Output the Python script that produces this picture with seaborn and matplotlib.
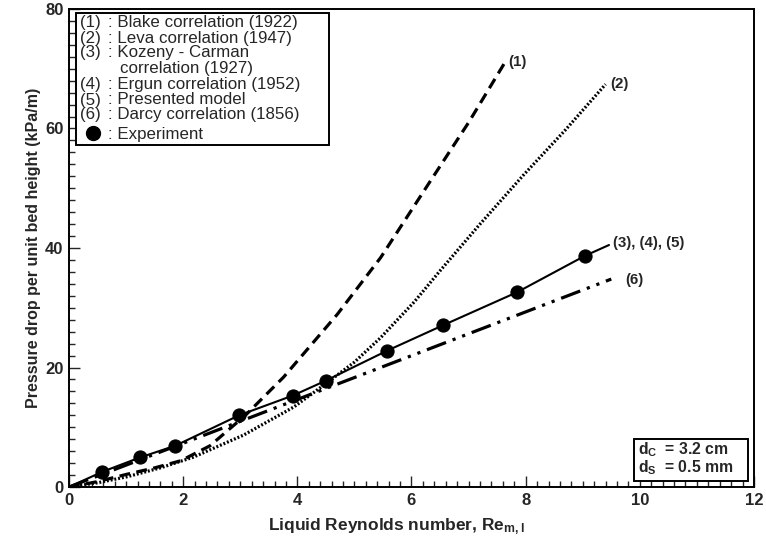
import matplotlib
matplotlib.use("Agg")
import matplotlib.pyplot as plt
from matplotlib.patches import Rectangle
import seaborn as sns

# ---------------- data ----------------
exp_x = [0.585, 1.246, 1.86, 2.98, 3.92, 4.50, 5.57, 6.56, 7.85, 9.04]
exp_y = [2.55, 4.95, 6.9, 12.0, 15.3, 17.8, 22.8, 27.1, 32.6, 38.7]

model_x = [0, 0.585, 1.246, 1.86, 2.98, 3.92, 4.50, 5.57, 6.56, 7.85, 9.04, 9.46]
model_y = [0, 2.55, 4.95, 6.9, 12.0, 15.3, 17.8, 22.8, 27.1, 32.6, 38.7, 40.5]

blake_x = [0, 0.5, 1.0, 1.5, 1.96, 2.47, 3.09, 3.76, 4.70, 5.46, 6.33, 7.0, 7.62]
blake_y = [0, 0.9, 2.1, 3.2, 4.4, 6.9, 12.0, 18.4, 28.9, 38.4, 51.2, 61.0, 70.8]

leva_x = [0, 0.5, 1.01, 1.6, 2.18, 3.06, 3.94, 4.50, 5.0, 5.46, 6.05, 6.51, 7.2, 7.97, 8.7, 9.40]
leva_y = [0, 0.7, 1.7, 3.2, 5.0, 8.7, 13.4, 17.3, 20.9, 25.0, 31.0, 36.3, 44.0, 52.3, 59.8, 67.4]

darcy_x = [0, 9.50]
darcy_y = [0, 34.8]

curve_labels = ["(1)", "(2)", "(3), (4), (5)", "(6)"]
legend_keys = ["(1)", "(2)", "(3)", "", "(4)", "(5)", "(6)"]
legend_texts = [": Blake correlation (1922)", ": Leva correlation (1947)",
                ": Kozeny - Carman", "correlation (1927)",
                ": Ergun correlation (1952)", ": Presented model",
                ": Darcy correlation (1856)"]
exp_label = ": Experiment"
box_lines = [r"d$_{\mathbf{C}}$  = 3.2 cm", r"d$_{\mathbf{S}}$  = 0.5 mm"]

xlabel = r"Liquid Reynolds number, Re$_{\mathbf{m,l}}$"
ylabel = "Pressure drop per unit bed height (kPa/m)"

# ---------------- style ----------------
sns.set_style("ticks")
plt.rcParams["font.family"] = ["Liberation Sans", "DejaVu Sans"]
plt.rcParams["mathtext.fontset"] = "custom"
plt.rcParams["mathtext.rm"] = "Liberation Sans:bold"
plt.rcParams["mathtext.bf"] = "Liberation Sans:bold"
plt.rcParams["mathtext.it"] = "Liberation Sans:bold"

W, H = 766, 545
fig = plt.figure(figsize=(W / 100, H / 100), dpi=100)
ax = fig.add_axes([69 / W, 1 - 487 / H, (754 - 69) / W, (487 - 9) / H])

def fx(px):
    return px / W

def fy(py):
    return 1 - py / H

lw = 2.3
sns.lineplot(x=blake_x, y=blake_y, ax=ax, color="black", lw=lw, sort=False,
             estimator=None)
ax.lines[-1].set_dashes([3.4, 2.0])
sns.lineplot(x=leva_x, y=leva_y, ax=ax, color="black", lw=lw, sort=False,
             estimator=None)
ax.lines[-1].set_dashes([0.6, 0.6])
sns.lineplot(x=darcy_x, y=darcy_y, ax=ax, color="black", lw=lw, sort=False,
             estimator=None)
ax.lines[-1].set_dashes([6.4, 2.2, 1.0, 2.2, 1.0, 2.2])
sns.lineplot(x=model_x, y=model_y, ax=ax, color="black", lw=1.5, sort=False,
             estimator=None)
sns.scatterplot(x=exp_x, y=exp_y, ax=ax, color="black", s=90, edgecolor="black",
                zorder=5)

ax.set_xlim(0, 12)
ax.set_ylim(0, 80)
ax.set_xticks([0, 2, 4, 6, 8, 10, 12])
ax.set_yticks([0, 20, 40, 60, 80])
ax.set_xticks([i * 0.2 for i in range(61)], minor=True)
ax.set_yticks([i * 2 for i in range(41)], minor=True)
ax.tick_params(which="major", direction="in", length=8, width=1.0,
               labelsize=12, pad=4, top=False, right=False)
ax.tick_params(which="minor", direction="in", length=4.3, width=1.0,
               top=False, right=False)
for lab in ax.get_xticklabels() + ax.get_yticklabels():
    lab.set_fontweight("bold")
for s in ax.spines.values():
    s.set_visible(True)
    s.set_linewidth(1.4)
    s.set_color("black")

ax.set_xlabel(xlabel, fontsize=12.5, fontweight="bold")
ax.xaxis.set_label_coords((396.5 - 69) / (754 - 69), -0.062)
ax.set_ylabel(ylabel, fontsize=11.5, fontweight="bold", labelpad=3)

# curve labels
lab_pos = [(508, 62), (610, 84), (613, 243), (625, 280)]
for t, (px, py) in zip(curve_labels, lab_pos):
    fig.text(fx(px), fy(py), t, fontsize=10.8, fontweight="bold",
             ha="left", va="center")

# legend box
fig.patches.append(Rectangle((fx(76), fy(145)), fx(329 - 76), (145 - 13) / H,
                             transform=fig.transFigure, fill=True,
                             facecolor="white", edgecolor="black", lw=1.4,
                             zorder=3))
fs_leg = 12.2
line_y = [22.5, 38, 53, 68.5, 85, 100, 114]
for key, txt, py in zip(legend_keys, legend_texts, line_y):
    if key:
        fig.text(fx(80), fy(py), key, fontsize=fs_leg, ha="left", va="center",
                 zorder=4)
        fig.text(fx(108), fy(py), txt, fontsize=fs_leg, ha="left", va="center",
                 zorder=4)
    else:
        fig.text(fx(120), fy(py), txt, fontsize=fs_leg, ha="left", va="center",
                 zorder=4)
fig.text(fx(108), fy(134), exp_label, fontsize=fs_leg, ha="left", va="center",
         zorder=4)
fig.lines.append(plt.Line2D([fx(93)], [fy(133)], marker="o", markersize=10,
                            color="black", transform=fig.transFigure, zorder=4))

# bottom-right box
fig.patches.append(Rectangle((fx(634), fy(481)), fx(748 - 634), (481 - 439) / H,
                             transform=fig.transFigure, fill=True,
                             facecolor="white", edgecolor="black", lw=1.4,
                             zorder=3))
for t, py in zip(box_lines, [450, 467.5]):
    fig.text(fx(638), fy(py), t, fontsize=11.3, fontweight="bold",
             ha="left", va="center", zorder=4)

fig.savefig("out.png", dpi=100)
